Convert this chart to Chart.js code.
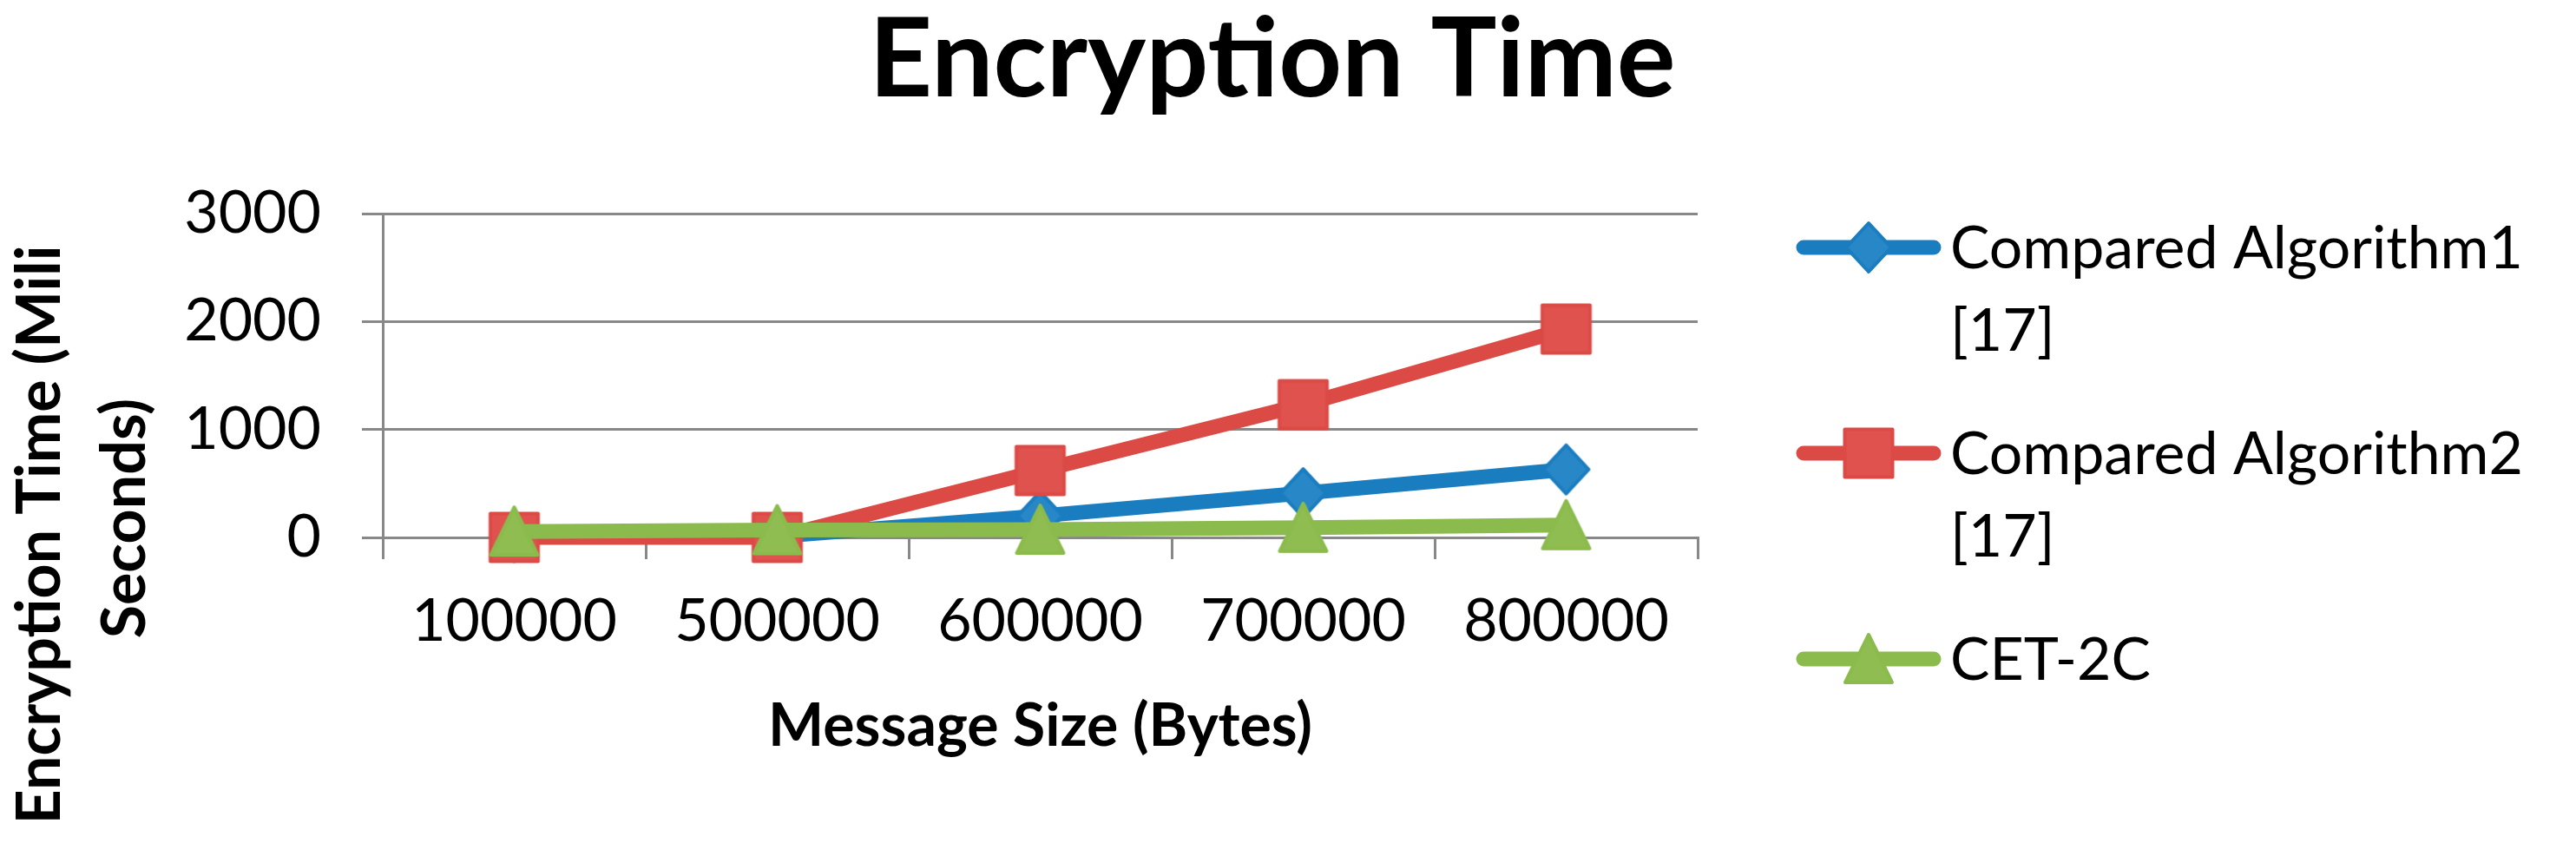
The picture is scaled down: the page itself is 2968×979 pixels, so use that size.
<!DOCTYPE html>
<html>
<head>
<meta charset="utf-8">
<script src="https://cdn.jsdelivr.net/npm/chart.js@4.4.1/dist/chart.umd.min.js"></script>
<style>
  html, body { margin: 0; padding: 0; background: #fff; }
  #wrap { width: 2968px; height: 979px; }
</style>
</head>
<body>
<div id="wrap"><canvas id="encChart" width="2968" height="979"></canvas></div>
<script>
// values
const messageSizes = ['100000', '500000', '600000', '700000', '800000'];
const algorithm1 = [5, 10, 200, 410, 630];
const algorithm2 = [0, 0, 620, 1230, 1930];
const cet2c = [55, 68, 72, 90, 115];
const seriesNames = ['Compared Algorithm1 [17]', 'Compared Algorithm2 [17]', 'CET-2C'];
const yTicks = [0, 1000, 2000, 3000];

const chartTitle = 'Encryption Time';
const yTitleLines = ['Encryption Time (Mili', 'Seconds)'];
const xTitle = 'Message Size (Bytes)';

const FONT = 'Lato, "Open Sans", sans-serif';

// Excel style markers, drawn once and used as point styles
function makeMarker(shape, fill, stroke) {
    const c = document.createElement('canvas');
    c.width = 66;
    c.height = 66;
    const g = c.getContext('2d');
    g.fillStyle = fill;
    g.strokeStyle = stroke;
    g.lineWidth = 4;
    g.lineJoin = 'round';
    g.beginPath();
    if (shape === 'diamond') {
        g.moveTo(33 - 26, 33);
        g.lineTo(33, 33 - 28);
        g.lineTo(33 + 26, 33);
        g.lineTo(33, 33 + 28);
    } else if (shape === 'square') {
        g.rect(33 - 27.5, 33 - 27.5, 55, 55);
    } else {
        g.moveTo(33, 33 - 28);
        g.lineTo(33 + 27, 33 + 27);
        g.lineTo(33 - 27, 33 + 27);
    }
    g.closePath();
    g.fill();
    g.stroke();
    return c;
}

const blue = '#1a7dc0', red = '#dc4a46', green = '#8bbb4c';

// title, rotated y title and legend, placed as in the reference
const decor = {
    id: 'decor',
    afterDraw(chart) {
        const ctx = chart.ctx;
        ctx.save();
        ctx.fillStyle = '#000';
        ctx.textBaseline = 'alphabetic';

        ctx.font = 'bold 127px ' + FONT;
        ctx.textAlign = 'center';
        ctx.fillText(chartTitle, 1466, 111);

        ctx.font = 'bold 70px ' + FONT;
        const yPos = [[69, 616], [167, 597]];
        yTitleLines.forEach((t, i) => {
            ctx.save();
            ctx.translate(yPos[i][0], yPos[i][1]);
            ctx.rotate(-Math.PI / 2);
            ctx.fillText(t, 0, 0);
            ctx.restore();
        });

        ctx.textAlign = 'left';
        ctx.font = '68px ' + FONT;
        chart.data.datasets.forEach((ds, i) => {
            const y = 285 + i * 237;
            ctx.strokeStyle = ds.borderColor;
            ctx.lineWidth = 17;
            ctx.lineCap = 'round';
            ctx.beginPath();
            ctx.moveTo(2078, y);
            ctx.lineTo(2228, y);
            ctx.stroke();
            const m = ds.pointStyle;
            ctx.drawImage(m, 2153 - m.width / 2, y - m.height / 2);
            let lines = [ds.label];
            const k = ds.label.lastIndexOf(' [');
            if (k > 0) lines = [ds.label.slice(0, k), ds.label.slice(k + 1)];
            lines.forEach((t, j) => ctx.fillText(t, 2247, y + 24 + j * 95));
        });
        ctx.restore();
    }
};

function lineSet(label, data, color, marker, order) {
    return {
        label: label,
        data: data,
        borderColor: color,
        backgroundColor: color,
        borderWidth: 17,
        borderCapStyle: 'round',
        borderJoinStyle: 'round',
        pointStyle: marker,
        pointRadius: 30,
        pointHoverRadius: 30,
        tension: 0,
        fill: false,
        clip: false,
        order: order
    };
}

const encCtx = document.getElementById('encChart').getContext('2d');
const encChart = new Chart(encCtx, {
    type: 'line',
    data: {
        labels: messageSizes,
        datasets: [
            lineSet(seriesNames[0], algorithm1, blue, makeMarker('diamond', '#2787c7', blue), 2),
            lineSet(seriesNames[1], algorithm2, red, makeMarker('square', '#df524e', red), 1),
            lineSet(seriesNames[2], cet2c, green, makeMarker('triangle', '#8fbd51', green), 0)
        ]
    },
    options: {
        responsive: false,
        animation: false,
        devicePixelRatio: 1,
        events: [],
        layout: { padding: { top: 246, right: 1012, bottom: 0, left: 0 } },
        plugins: {
            legend: { display: false },
            title: { display: false },
            tooltip: { enabled: false }
        },
        scales: {
            x: {
                offset: true,
                grid: {
                    offset: true,
                    drawOnChartArea: false,
                    drawTicks: true,
                    tickLength: 25,
                    color: '#888888',
                    lineWidth: 3
                },
                border: { color: '#888888', width: 3 },
                ticks: {
                    color: '#000',
                    padding: 31,
                    maxRotation: 0,
                    font: { family: FONT, size: 68 }
                },
                title: {
                    display: true,
                    text: xTitle,
                    color: '#000',
                    font: { family: FONT, size: 68, weight: 'bold' },
                    padding: { top: 0, bottom: 101 }
                },
                afterFit(s) { s.height = 360; }
            },
            y: {
                min: yTicks[0],
                max: yTicks[yTicks.length - 1],
                grid: {
                    color: '#888888',
                    lineWidth: 3,
                    tickLength: 24
                },
                border: { color: '#888888', width: 3 },
                ticks: {
                    stepSize: yTicks[1] - yTicks[0],
                    color: '#000',
                    padding: 47,
                    font: { family: FONT, size: 68 },
                    callback: v => String(v)
                },
                afterFit(s) { s.width = 441; }
            }
        }
    },
    plugins: [decor]
});
</script>
</body>
</html>
